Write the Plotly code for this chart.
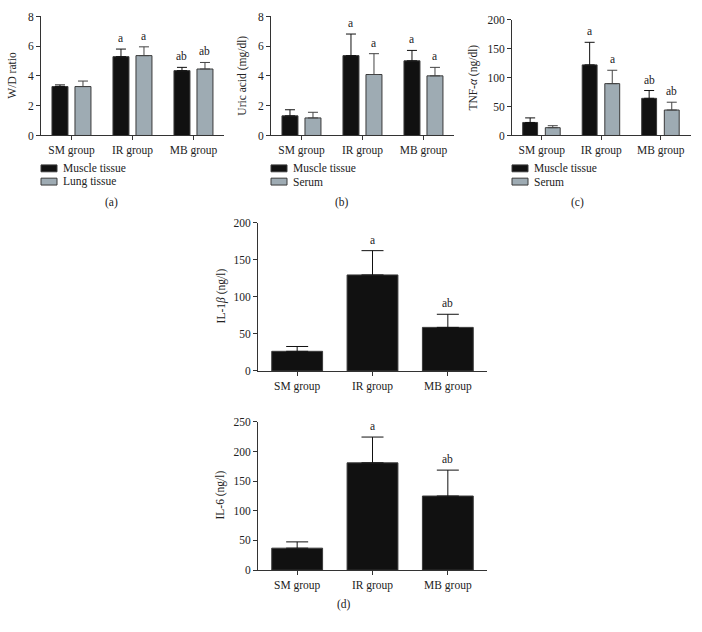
import plotly.graph_objects as go

W, H = 702, 632
FONT = "Liberation Serif"

groups = ["SM group", "IR group", "MB group"]

# Panel (a) W/D ratio
a_muscle = [3.29, 5.30, 4.36]
a_muscle_err = [0.11, 0.51, 0.22]
a_lung = [3.29, 5.37, 4.47]
a_lung_err = [0.37, 0.59, 0.44]
a_muscle_sig = ["", "a", "ab"]
a_lung_sig = ["", "a", "ab"]

# Panel (b) Uric acid
b_muscle = [1.32, 5.37, 5.02]
b_muscle_err = [0.41, 1.45, 0.70]
b_serum = [1.18, 4.10, 4.01]
b_serum_err = [0.38, 1.40, 0.57]
b_muscle_sig = ["", "a", "a"]
b_serum_sig = ["", "a", "a"]

# Panel (c) TNF-alpha
c_muscle = [22.5, 122.0, 64.2]
c_muscle_err = [7.9, 39.0, 13.5]
c_serum = [13.5, 89.6, 44.0]
c_serum_err = [3.4, 23.1, 13.5]
c_muscle_sig = ["", "a", "ab"]
c_serum_sig = ["", "a", "ab"]

# Panel (d) IL-1beta and IL-6
d1_vals = [26.5, 129.6, 58.8]
d1_err = [6.5, 32.8, 17.7]
d1_sig = ["", "a", "ab"]
d2_vals = [37.0, 181.0, 125.0]
d2_err = [10.6, 43.5, 43.7]
d2_sig = ["", "a", "ab"]

BLACK = "#111111"
GREY = "#9eabb3"
EDGE = "#3a3a3a"
AXC = "#333333"
FS = 11.5

def px_x(p):
    return p / W

def px_y(p):
    return 1 - p / H

fig = go.Figure()

panels = {
    1: dict(x0=41, x1=224, yt=10.7, yb=132, ymax=8, dtick=2, xr=[-0.5, 2.5]),
    2: dict(x0=271, x1=454, yt=10.7, yb=132, ymax=8, dtick=2, xr=[-0.5, 2.5]),
    3: dict(x0=512, x1=690.5, yt=14, yb=132, ymax=200, dtick=50, xr=[-0.5, 2.5]),
    4: dict(x0=258, x1=487, yt=221, yb=372, ymax=200, dtick=50, xr=[-0.52, 2.52]),
    5: dict(x0=258, x1=487, yt=424, yb=575, ymax=250, dtick=50, xr=[-0.52, 2.52]),
}

annotations = []
shapes = []

def add_bars(idx, vals, errs, sigs, color, offset, width, errcolor, capw):
    sfx = "" if idx == 1 else str(idx)
    fig.add_trace(go.Bar(
        x=[0, 1, 2], y=vals, offset=offset, width=width,
        marker=dict(color=color, line=dict(color=EDGE, width=1)),
        error_y=dict(type="data", symmetric=False, array=errs,
                     arrayminus=[0] * len(errs), color=errcolor,
                     thickness=1, width=capw),
        xaxis="x" + sfx, yaxis="y" + sfx, showlegend=False,
        hoverinfo="skip",
    ))
    for i, (v, e, s) in enumerate(zip(vals, errs, sigs)):
        if s:
            annotations.append(dict(
                x=i + offset + width / 2, y=v + e, xref="x" + sfx, yref="y" + sfx,
                text=s, showarrow=False, yanchor="bottom", yshift=3,
                font=dict(family=FONT, size=FS, color="#222")))

OFF_M, OFF_G, WID = -0.32, 0.057, 0.262
add_bars(1, a_muscle, a_muscle_err, a_muscle_sig, BLACK, OFF_M, WID, "#111", 5)
add_bars(1, a_lung, a_lung_err, a_lung_sig, GREY, OFF_G, WID, "#444", 5)
add_bars(2, b_muscle, b_muscle_err, b_muscle_sig, BLACK, OFF_M, WID, "#111", 5)
add_bars(2, b_serum, b_serum_err, b_serum_sig, GREY, OFF_G, WID, "#444", 5)
add_bars(3, c_muscle, c_muscle_err, c_muscle_sig, BLACK, OFF_M, 0.25, "#111", 5)
add_bars(3, c_serum, c_serum_err, c_serum_sig, GREY, 0.06, 0.25, "#444", 5)
add_bars(4, d1_vals, d1_err, d1_sig, BLACK, -0.3375, 0.675, "#111", 11)
add_bars(5, d2_vals, d2_err, d2_sig, BLACK, -0.3375, 0.675, "#111", 11)

layout = dict(
    width=W, height=H, margin=dict(l=0, r=0, t=0, b=0),
    paper_bgcolor="white", plot_bgcolor="white",
    barmode="overlay", font=dict(family=FONT, size=FS, color="#222"),
)
for idx, p in panels.items():
    sfx = "" if idx == 1 else str(idx)
    layout["xaxis" + sfx] = dict(
        domain=[px_x(p["x0"]), px_x(p["x1"])], range=p["xr"],
        anchor="y" + sfx, tickvals=[0, 1, 2], ticktext=groups,
        showline=True, linecolor=AXC, linewidth=1, ticks="outside",
        ticklen=4, tickcolor=AXC, showgrid=False, zeroline=False,
        tickfont=dict(family=FONT, size=FS, color="#222"), fixedrange=True,
    )
    layout["yaxis" + sfx] = dict(
        domain=[px_y(p["yb"]), px_y(p["yt"])], range=[0, p["ymax"]],
        anchor="x" + sfx, dtick=p["dtick"], tick0=0,
        showline=True, linecolor=AXC, linewidth=1, ticks="outside",
        ticklen=4, tickcolor=AXC, showgrid=False, zeroline=False,
        tickfont=dict(family=FONT, size=FS, color="#222"), fixedrange=True,
    )

ytitles = [
    ("W/D ratio", 12, 71),
    ("Uric acid (mg/dl)", 243, 71),
    ("TNF-<i>α</i> (ng/dl)", 474, 73),
    ("IL-1<i>β</i> (ng/l)", 221, 296),
    ("IL-6 (ng/l)", 221, 499),
]
for t, x, y in ytitles:
    annotations.append(dict(x=px_x(x), y=px_y(y), xref="paper", yref="paper",
                            text=t, textangle=-90, showarrow=False,
                            xanchor="center", yanchor="middle",
                            font=dict(family=FONT, size=FS, color="#222")))

legends = [
    (41, ["Muscle tissue", "Lung tissue"]),
    (271, ["Muscle tissue", "Serum"]),
    (512, ["Muscle tissue", "Serum"]),
]
for x0, labels in legends:
    for j, (lab, col) in enumerate(zip(labels, [BLACK, GREY])):
        yc = 165.5 + 13.5 * j
        shapes.append(dict(type="rect", xref="paper", yref="paper",
                           x0=px_x(x0), x1=px_x(x0 + 16),
                           y0=px_y(yc + 3.5), y1=px_y(yc - 3.5),
                           fillcolor=col, line=dict(color=EDGE, width=1)))
        annotations.append(dict(x=px_x(x0 + 20), y=px_y(yc), xref="paper",
                                yref="paper", text=lab, showarrow=False,
                                xanchor="left", yanchor="middle",
                                font=dict(family=FONT, size=FS, color="#222")))

for t, x, y in [("(a)", 111, 200), ("(b)", 342, 200), ("(c)", 577, 200), ("(d)", 344, 610)]:
    annotations.append(dict(x=px_x(x), y=px_y(y), xref="paper", yref="paper",
                            text=t, showarrow=False, xanchor="center",
                            yanchor="middle",
                            font=dict(family=FONT, size=FS, color="#222")))

layout["annotations"] = annotations
layout["shapes"] = shapes
fig.update_layout(**layout)
fig.write_html("out.html", config={"displayModeBar": False},
               post_script="document.body.style.margin='0';document.body.style.overflow='hidden';")
